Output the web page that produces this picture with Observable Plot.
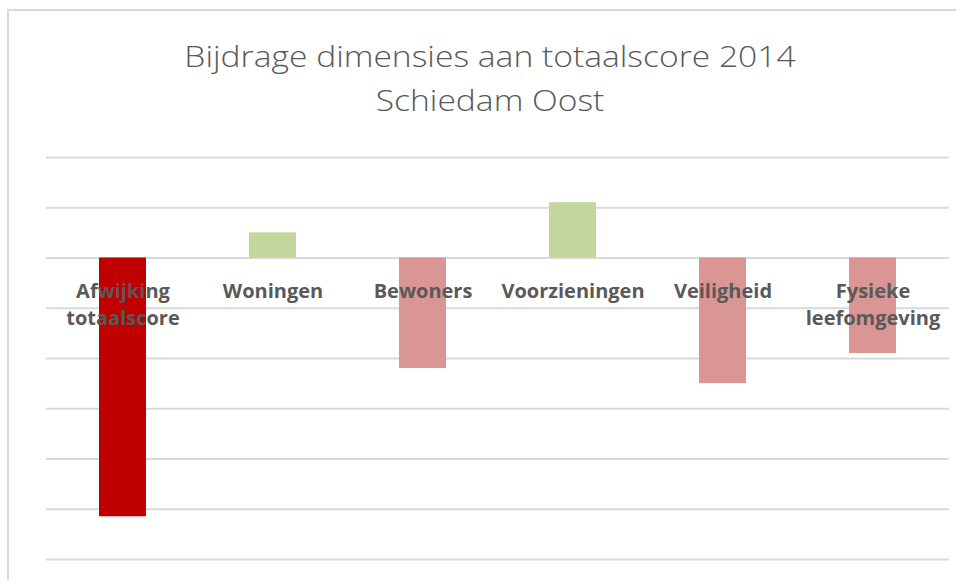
<!DOCTYPE html>
<html>
<head>
<meta charset="utf-8">
<script src="https://cdn.jsdelivr.net/npm/d3@7"></script>
<script src="https://cdn.jsdelivr.net/npm/@observablehq/plot@0.6"></script>
<style>
  html, body { margin: 0; padding: 0; background: #fff; width: 956px; height: 580px; overflow: hidden; }
  #frame { position: absolute; left: 7px; top: 9px; width: 1000px; height: 700px;
           border-top: 2px solid #d9d9d9; border-left: 2px solid #d9d9d9; }
  .title { position: absolute; left: 140px; width: 700px; text-align: center;
           font-family: "Open Sans", sans-serif; font-weight: 300; color: #595959;
           font-size: 30px; line-height: 1; white-space: nowrap;
           transform: scaleX(1.12); transform-origin: 350px 0; }
  #chart { position: absolute; left: 0; top: 130px; }
</style>
</head>
<body>
<div id="frame"></div>
<div class="title" id="t1" style="top:41px">Bijdrage dimensies aan totaalscore 2014</div>
<div class="title" id="t2" style="top:85px">Schiedam Oost</div>
<div id="chart"></div>
<script>
const categories = ["Afwijking totaalscore", "Woningen", "Bewoners", "Voorzieningen", "Veiligheid", "Fysieke leefomgeving"];
const labels = ["Afwijking\ntotaalscore", "Woningen", "Bewoners", "Voorzieningen", "Veiligheid", "Fysieke\nleefomgeving"];
const values = [-5.15, 0.5, -2.2, 1.1, -2.5, -1.9];
const gridTicks = [2, 1, 0, -1, -2, -3, -4, -5, -6];

const data = categories.map((c, i) => ({category: c, label: labels[i], value: values[i], index: i}));
const colorOf = d => d.index === 0 ? "#c00000" : (d.value < 0 ? "#d99694" : "#c3d69b");

const chart = Plot.plot({
  width: 956,
  height: 450,
  marginTop: 27,
  marginBottom: 21,
  marginLeft: 46,
  marginRight: 7,
  x: {domain: categories, paddingInner: 0.69, paddingOuter: 0.345, axis: null},
  y: {domain: [-6, 2], axis: null},
  marks: [
    Plot.ruleY(gridTicks, {stroke: "#d9d9d9", strokeWidth: 2}),
    Plot.barY(data, {x: "category", y: "value", fill: colorOf}),
    Plot.text(data, {x: "category", y: () => 0, text: "label", lineAnchor: "top", dy: 20.5,
      lineHeight: 1.37, fill: "#595959", fontSize: 20, fontWeight: "bold",
      fontFamily: "'Open Sans', sans-serif"})
  ]
});
document.getElementById("chart").appendChild(chart);
</script>
</body>
</html>
